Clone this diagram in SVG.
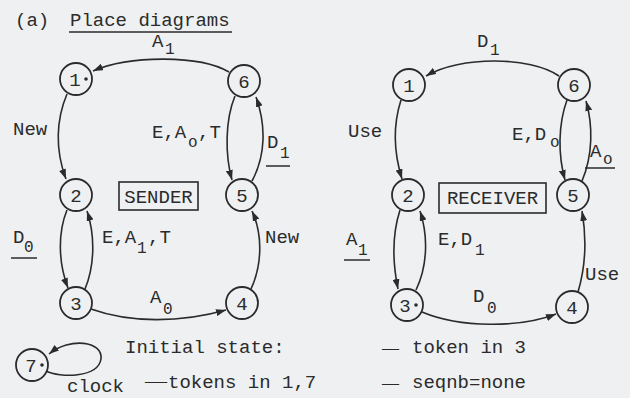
<svg xmlns="http://www.w3.org/2000/svg" width="630" height="398" viewBox="0 0 630 398">
<style>
  text { font-family: "Liberation Mono", "Courier New", monospace; font-size: 19px; fill: #2b2b2b; }
  .sub { font-size: 16px; }
  .dash { font-family: "Liberation Serif", serif; }
  .num { text-anchor: middle; }
  .place { fill: none; stroke: #2b2b2b; stroke-width: 1.8; }
  .edge { fill: none; stroke: #2b2b2b; stroke-width: 1.6; }
  .rule { stroke: #2b2b2b; stroke-width: 1.5; }
  .box { fill: none; stroke: #2b2b2b; stroke-width: 1.6; }
  .tok { fill: #2b2b2b; }
</style>
<defs>
  <marker id="arr" viewBox="0 0 10 7" refX="10" refY="3.5" markerWidth="10" markerHeight="7" markerUnits="userSpaceOnUse" orient="auto">
    <path d="M0,0 L10,3.5 L0,7 z" fill="#2b2b2b"/>
  </marker>
</defs>
<rect width="630" height="398" fill="#eef0f2"/>

<g id="title">
  <text x="15" y="26">(a)</text>
  <text x="70" y="26">Place diagrams</text>
  <line class="rule" x1="69" y1="32" x2="232" y2="32"/>
</g>

<g id="connectors">
  <!-- sender -->
  <path class="edge" marker-end="url(#arr)" d="M229,72 C200,55 130,55 93,71"/>
  <path class="edge" marker-end="url(#arr)" d="M67,94 C56,120 55,150 66,179"/>
  <path class="edge" marker-end="url(#arr)" d="M67,210 C58,232 58,262 68,288"/>
  <path class="edge" marker-end="url(#arr)" d="M85,289 C95,265 95,235 87,211"/>
  <path class="edge" marker-end="url(#arr)" d="M91,309 C130,323 180,323 226,310"/>
  <path class="edge" marker-end="url(#arr)" d="M251,289 C262,265 263,235 252,211"/>
  <path class="edge" marker-end="url(#arr)" d="M235,96 C225,120 225,155 232,180"/>
  <path class="edge" marker-end="url(#arr)" d="M252,181 C266,155 266,125 256,97"/>
  <path class="edge" marker-end="url(#arr)" d="M46,371 C60,378 98,378 101,359 C103,341 70,337 49,354"/>
  <!-- receiver -->
  <path class="edge" marker-end="url(#arr)" d="M559,76 C530,56 460,56 426,76"/>
  <path class="edge" marker-end="url(#arr)" d="M401,100 C393,125 393,150 402,179"/>
  <path class="edge" marker-end="url(#arr)" d="M567,100 C558,125 558,155 565,180"/>
  <path class="edge" marker-end="url(#arr)" d="M582,181 C593,155 593,125 586,101"/>
  <path class="edge" marker-end="url(#arr)" d="M400,210 C392,235 392,260 398,289"/>
  <path class="edge" marker-end="url(#arr)" d="M416,290 C428,265 428,235 420,211"/>
  <path class="edge" marker-end="url(#arr)" d="M422,312 C460,328 520,328 556,314"/>
  <path class="edge" marker-end="url(#arr)" d="M578,292 C586,265 587,240 582,211"/>
</g>

<g id="sender-labels">
  <text x="152" y="47">A</text><text class="sub" x="165" y="54">1</text>
  <text x="13" y="135">New</text>
  <text x="152" y="138">E,A</text><text class="sub" x="188" y="147">o</text><text x="198" y="138">,T</text>
  <text x="267" y="148">D</text><text class="sub" x="280" y="158">1</text>
  <line class="rule" x1="266" y1="166" x2="290" y2="166"/>
  <text x="13" y="243">D</text><text class="sub" x="24" y="252">0</text>
  <line class="rule" x1="11" y1="258" x2="37" y2="258"/>
  <text x="102" y="243">E,A</text><text class="sub" x="137" y="253">1</text><text x="148" y="243">,T</text>
  <text x="150" y="303">A</text><text class="sub" x="163" y="314">0</text>
  <text x="265" y="243">New</text>
</g>

<g id="sender-box">
  <rect class="box" x="119" y="182" width="79" height="28"/>
  <text class="num" x="158.5" y="203">SENDER</text>
</g>

<g id="s1"><circle class="place" cx="76" cy="79" r="16"/><text class="num" x="75" y="85.5">1</text><circle class="tok" cx="86" cy="79" r="1.8"/></g>
<g id="s2"><circle class="place" cx="76" cy="195" r="16"/><text class="num" x="76" y="201.5">2</text></g>
<g id="s3"><circle class="place" cx="76" cy="303" r="16"/><text class="num" x="76" y="309.5">3</text></g>
<g id="s4"><circle class="place" cx="242" cy="303" r="16"/><text class="num" x="242" y="309.5">4</text></g>
<g id="s5"><circle class="place" cx="242" cy="195" r="16"/><text class="num" x="242" y="201.5">5</text></g>
<g id="s6"><circle class="place" cx="244" cy="81" r="16"/><text class="num" x="244" y="87.5">6</text></g>
<g id="s7"><circle class="place" cx="32" cy="365" r="16"/><text class="num" x="31" y="371.5">7</text><circle class="tok" cx="42" cy="365" r="1.8"/></g>

<g id="receiver-labels">
  <text x="477" y="47">D</text><text class="sub" x="490" y="55">1</text>
  <text x="348" y="137">Use</text>
  <text x="512" y="140">E,D</text><text class="sub" x="550" y="147">o</text>
  <text x="590" y="157">A</text><text class="sub" x="603" y="164">o</text>
  <line class="rule" x1="585" y1="168" x2="615" y2="168"/>
  <text x="346" y="245">A</text><text class="sub" x="358" y="255">1</text>
  <line class="rule" x1="344" y1="260" x2="370" y2="260"/>
  <text x="438" y="245">E,D</text><text class="sub" x="475" y="255">1</text>
  <text x="473" y="302">D</text><text class="sub" x="487" y="313">0</text>
  <text x="585" y="280">Use</text>
</g>

<g id="receiver-box">
  <rect class="box" x="439" y="183" width="107" height="30"/>
  <text class="num" x="492.5" y="204">RECEIVER</text>
</g>

<g id="r1"><circle class="place" cx="409" cy="85" r="16"/><text class="num" x="409" y="91.5">1</text></g>
<g id="r2"><circle class="place" cx="408" cy="195" r="16"/><text class="num" x="408" y="201.5">2</text></g>
<g id="r3"><circle class="place" cx="407" cy="305" r="16"/><text class="num" x="405" y="311.5">3</text><circle class="tok" cx="416" cy="305" r="1.8"/></g>
<g id="r4"><circle class="place" cx="572" cy="307" r="16"/><text class="num" x="572" y="313.5">4</text></g>
<g id="r5"><circle class="place" cx="573" cy="195" r="16"/><text class="num" x="573" y="201.5">5</text></g>
<g id="r6"><circle class="place" cx="574" cy="85" r="16"/><text class="num" x="574" y="91.5">6</text></g>

<g id="notes">
  <text x="125" y="353">Initial state:</text>
  <text x="67" y="392">clock</text>
  <text y="388"><tspan class="dash" x="145" font-size="22">—</tspan><tspan x="168">tokens in 1,7</tspan></text>
  <text y="353"><tspan class="dash" x="382" font-size="17">—</tspan><tspan x="412">token in 3</tspan></text>
  <text y="388"><tspan class="dash" x="382" font-size="17">—</tspan><tspan x="412">seqnb=none</tspan></text>
</g>
</svg>
